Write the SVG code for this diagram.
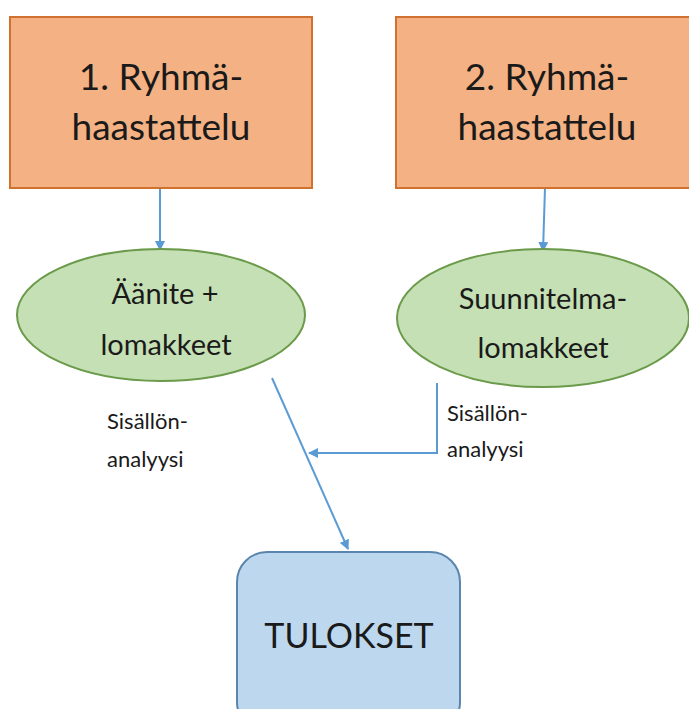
<svg xmlns="http://www.w3.org/2000/svg" width="689" height="709" viewBox="0 0 689 709">
<defs>
<marker id="ah" markerWidth="10" markerHeight="10" refX="9" refY="5" orient="auto" markerUnits="userSpaceOnUse">
<path d="M0,0 L10,5 L0,10 Z" fill="#5B9BD5"/>
</marker>
<style>
.box{fill:#F4B183;stroke:#D0712F;stroke-width:2}
.ell{fill:#C5E0B4;stroke:#6A9A4A;stroke-width:2}
.res{fill:#BDD7EE;stroke:#5A86AE;stroke-width:2}
.big{font-family:Lato,"Open Sans",sans-serif;font-size:37px;fill:#1a1a1a;text-anchor:middle}
.mid{font-family:Lato,"Open Sans",sans-serif;font-size:29px;fill:#1a1a1a;text-anchor:middle}
.sm{font-family:Lato,"Open Sans",sans-serif;font-size:22px;fill:#1a1a1a}
.con{fill:none;stroke:#5B9BD5;stroke-width:2}
</style>
</defs>
<rect width="689" height="709" fill="#ffffff"/>
<g id="connectors">
<line class="con" x1="160" y1="188" x2="160" y2="250" marker-end="url(#ah)"/>
<line class="con" x1="545" y1="188" x2="543" y2="251" marker-end="url(#ah)"/>
<line class="con" x1="272" y1="378" x2="348" y2="549" marker-end="url(#ah)"/>
<polyline class="con" points="437,383 437,453 309,453" marker-end="url(#ah)"/>
<text class="sm" x="107" y="429">Sisällön-</text>
<text class="sm" x="107" y="467">analyysi</text>
<text class="sm" x="447" y="421">Sisällön-</text>
<text class="sm" x="447" y="457">analyysi</text>
</g>
<g id="n1">
<rect class="box" x="10" y="17" width="302" height="171"/>
<text class="big" x="161" y="90">1. Ryhmä-</text>
<text class="big" x="161" y="140">haastattelu</text>
</g>
<g id="n2">
<rect class="box" x="396" y="17" width="310" height="171"/>
<text class="big" x="547" y="90">2. Ryhmä-</text>
<text class="big" x="547" y="140">haastattelu</text>
</g>
<g id="e1">
<ellipse class="ell" cx="161" cy="315" rx="144" ry="66"/>
<text class="mid" x="165" y="304">Äänite +</text>
<text class="mid" x="166" y="355">lomakkeet</text>
</g>
<g id="e2">
<ellipse class="ell" cx="543" cy="318" rx="146" ry="69"/>
<text class="mid" x="543" y="309">Suunnitelma-</text>
<text class="mid" x="543" y="358">lomakkeet</text>
</g>
<g id="res">
<rect class="res" x="237" y="552" width="223" height="180" rx="30"/>
<text class="big" x="349" y="648" style="font-size:34px">TULOKSET</text>
</g>
</svg>
